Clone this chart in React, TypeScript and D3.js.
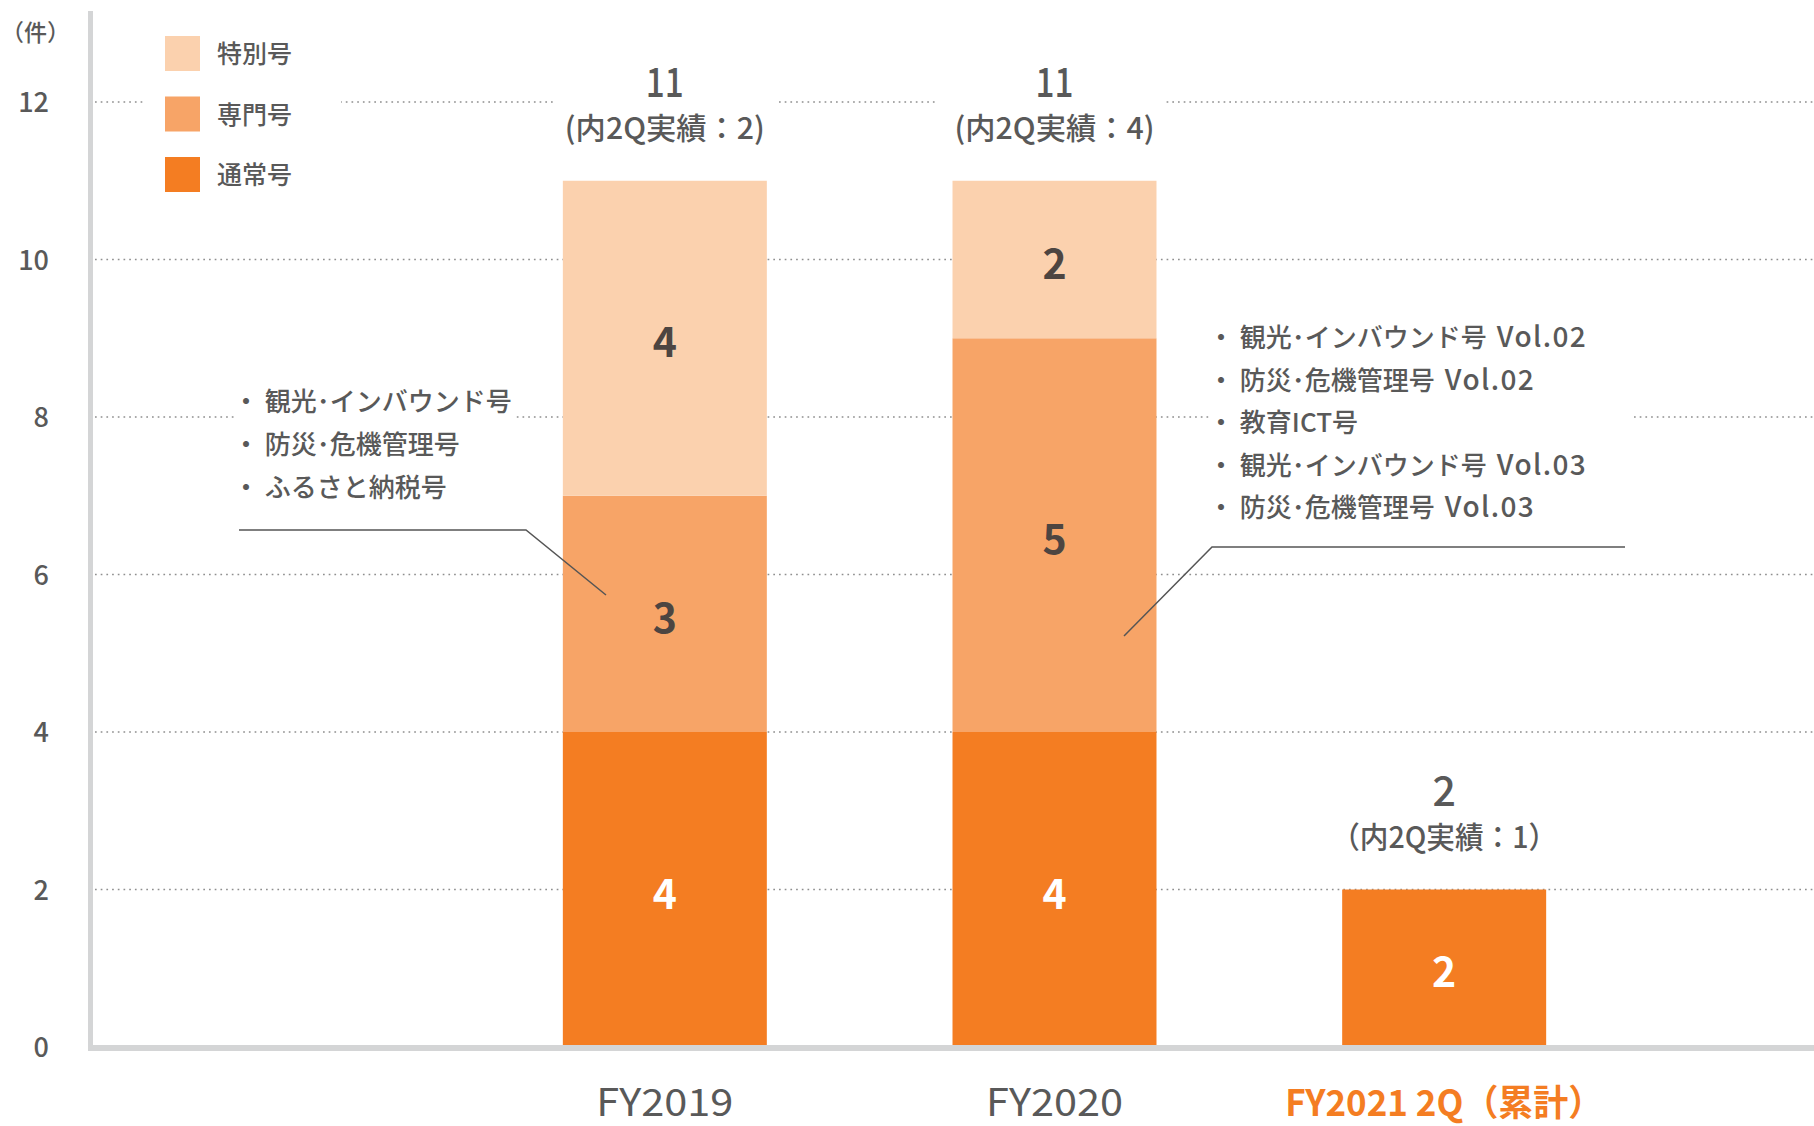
import React from "react";
import * as d3 from "d3";

const categories = ["FY2019", "FY2020", "FY2021 2Q（累計）"];
const seriesKeys = ["regular", "specialized", "special"];
const seriesNames = ["通常号", "専門号", "特別号"];
const regular = [4, 4, 2];
const specialized = [3, 5, 0];
const special = [4, 2, 0];
const totals = [11, 11, 2];
const q2Notes = ["(内2Q実績：2)", "(内2Q実績：4)", "（内2Q実績：1）"];
const yTicks = [0, 2, 4, 6, 8, 10, 12];
const legendOrder = ["特別号", "専門号", "通常号"];
const leftNotes = ["・ 観光･インバウンド号", "・ 防災･危機管理号", "・ ふるさと納税号"];
const rightNotes = [
  ["・ 観光･インバウンド号", "Vol.02"],
  ["・ 防災･危機管理号", "Vol.02"],
  ["・ 教育ICT号", ""],
  ["・ 観光･インバウンド号", "Vol.03"],
  ["・ 防災･危機管理号", "Vol.03"],
];

const W = 1814;
const H = 1126;
const FONT = "'Noto Sans CJK JP', 'Noto Sans', sans-serif";
const GRAY = "#595959";
const colors: Record<string, string> = {
  regular: "#F47D22",
  specialized: "#F7A467",
  special: "#FBD1AE",
};
const legendColor: Record<string, string> = {
  "特別号": colors.special,
  "専門号": colors.specialized,
  "通常号": colors.regular,
};

export default function App() {
  const rows = categories.map((c, i) => ({
    cat: c,
    regular: regular[i],
    specialized: specialized[i],
    special: special[i],
  }));
  const stacked = d3.stack<any>().keys(seriesKeys)(rows);

  const x = d3
    .scaleBand<string>()
    .domain(categories)
    .range([470, 1639])
    .paddingInner(0.4765)
    .paddingOuter(0.4765 / 2);
  const y = d3.scaleLinear().domain([0, 12]).range([1047, 102]);
  const bw = x.bandwidth();

  return (
    <svg
      width={W}
      height={H}
      style={{ position: "absolute", left: 0, top: 0, background: "#fff" }}
      fontFamily={FONT}
    >
      <rect x={0} y={0} width={W} height={H} fill="#fff" />
      {/* gridlines */}
      {yTicks
        .filter((t) => t > 0)
        .map((t) => (
          <line
            key={"g" + t}
            x1={95}
            x2={W}
            y1={y(t)}
            y2={y(t)}
            stroke="#8f8f8f"
            strokeWidth={1.7}
            strokeDasharray="1.7 4"
          />
        ))}
      {/* white boxes that interrupt gridlines */}
      <rect x={145} y={20} width={196} height={185} fill="#fff" />
      <rect x={555} y={55} width={222} height={95} fill="#fff" />
      <rect x={935} y={55} width={228} height={95} fill="#fff" />
      <rect x={237} y={380} width={278} height={120} fill="#fff" />
      <rect x={1210} y={310} width={420} height={215} fill="#fff" />

      {/* bars */}
      {stacked.map((s) =>
        s.map((d, i) =>
          d[1] - d[0] > 0 ? (
            <rect
              key={s.key + i}
              x={x(categories[i])}
              y={y(d[1])}
              width={bw}
              height={y(d[0]) - y(d[1])}
              fill={colors[s.key]}
            />
          ) : null
        )
      )}
      {/* segment labels */}
      {stacked.map((s) =>
        s.map((d, i) =>
          d[1] - d[0] > 0 ? (
            <text
              key={"l" + s.key + i}
              x={x(categories[i])! + bw / 2}
              y={y((d[0] + d[1]) / 2) + 19}
              textAnchor="middle"
              fontSize={41}
              fontWeight={700}
              fill={s.key === "regular" ? "#fff" : "#4d4541"}
            >
              {d[1] - d[0]}
            </text>
          ) : null
        )
      )}

      {/* axes */}
      <rect x={88} y={11} width={5} height={1040} fill="#d4d5d6" />
      <rect x={88} y={1045} width={W - 88} height={6} fill="#d4d5d6" />
      {yTicks.map((t) => (
        <text
          key={"t" + t}
          x={49}
          y={y(t) + 10}
          textAnchor="end"
          fontSize={27}
          fontWeight={500}
          fill={GRAY}
        >
          {t}
        </text>
      ))}
      <text x={1} y={41} fontSize={23} fontWeight={500} fill={GRAY}>
        （件）
      </text>

      {/* legend */}
      {legendOrder.map((name, i) => (
        <g key={name} transform={`translate(165, ${36 + i * 60.5})`}>
          <rect width={35} height={35} fill={legendColor[name]} />
          <text x={52} y={27} fontSize={25} fontWeight={500} fill={GRAY}>
            {name}
          </text>
        </g>
      ))}

      {/* totals */}
      {categories.map((c, i) => {
        const cx = x(c)! + bw / 2;
        const top = y(totals[i]);
        return (
          <g key={"tot" + c}>
            <text
              x={cx}
              y={top - 84}
              textAnchor="middle"
              fontSize={41}
              fontWeight={500}
              fill={GRAY}
              textLength={i < 2 ? 38 : undefined}
              lengthAdjust="spacingAndGlyphs"
            >
              {totals[i]}
            </text>
            <text
              x={cx}
              y={top - 42}
              textAnchor="middle"
              fontSize={30}
              fontWeight={500}
              fill={GRAY}
              textLength={i < 2 ? 200 : 226}
              lengthAdjust="spacingAndGlyphs"
            >
              {q2Notes[i]}
            </text>
          </g>
        );
      })}

      {/* x labels */}
      {categories.map((c, i) => (
        <text
          key={"x" + c}
          x={x(c)! + bw / 2}
          y={1116}
          textAnchor="middle"
          fontSize={i < 2 ? 38 : 36}
          fontWeight={i < 2 ? 400 : 700}
          fill={i < 2 ? GRAY : "#F47D22"}
          textLength={i < 2 ? 137 : 318}
          lengthAdjust="spacingAndGlyphs"
        >
          {c}
        </text>
      ))}

      {/* annotations */}
      {leftNotes.map((t, i) => (
        <text
          key={"ln" + i}
          x={233}
          y={411 + i * 43}
          fontSize={26}
          fontWeight={500}
          fill={GRAY}
        >
          {t}
        </text>
      ))}
      <polyline
        points="239,530 526,530 606,595"
        fill="none"
        stroke="#555"
        strokeWidth={1.5}
      />
      {rightNotes.map((t, i) => (
        <text
          key={"rn" + i}
          x={1208}
          y={347 + i * 42.5}
          fontSize={26}
          fontWeight={500}
          fill={GRAY}
        >
          {t[0]}
          {t[1] ? (
            <tspan dx={10} fontSize={28} letterSpacing={1.4}>
              {t[1]}
            </tspan>
          ) : null}
        </text>
      ))}
      <polyline
        points="1625,547 1212,547 1124,636"
        fill="none"
        stroke="#555"
        strokeWidth={1.5}
      />
    </svg>
  );
}
